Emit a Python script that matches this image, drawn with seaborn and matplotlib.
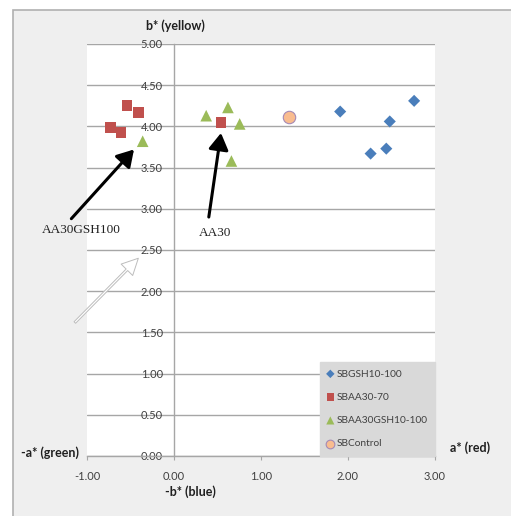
import matplotlib
matplotlib.use("Agg")
import matplotlib.pyplot as plt
import seaborn as sns
import pandas as pd
from matplotlib.patches import Rectangle

# ---- data ----
gsh_a = [1.91, 2.26, 2.44, 2.48, 2.76]
gsh_b = [4.18, 3.67, 3.73, 4.06, 4.31]
aa_a = [-0.73, -0.61, -0.54, -0.41, 0.54]
aa_b = [3.99, 3.93, 4.25, 4.17, 4.05]
aagsh_a = [-0.36, 0.37, 0.62, 0.66, 0.755]
aagsh_b = [3.82, 4.13, 4.23, 3.58, 4.03]
ctrl_a = [1.32]
ctrl_b = [4.11]
series = ["SBGSH10-100", "SBAA30-70", "SBAA30GSH10-100", "SBControl"]
x_ticks = [-1.0, 0.0, 1.0, 2.0, 3.0]
y_ticks = [0.0, 0.5, 1.0, 1.5, 2.0, 2.5, 3.0, 3.5, 4.0, 4.5, 5.0]

rows = []
for name, xs, ys in zip(series, [gsh_a, aa_a, aagsh_a, ctrl_a], [gsh_b, aa_b, aagsh_b, ctrl_b]):
    for x, y in zip(xs, ys):
        rows.append({"a": x, "b": y, "series": name})
df = pd.DataFrame(rows)

sns.set_style("white")
plt.rcParams["font.family"] = ["Lato", "DejaVu Sans"]

W, H = 511, 516
fig = plt.figure(figsize=(W / 100, H / 100), dpi=100, facecolor="white")
# outer chart area
bg = Rectangle((13 / W, -0.05), 1.1, 1.05 - 10 / H, transform=fig.transFigure,
               facecolor="#efefef", edgecolor="#b0b0b0", linewidth=1.2, zorder=-10)
fig.patches.append(bg)

ax = fig.add_axes([87 / W, (H - 456) / H, (435 - 87) / W, (456 - 44) / H])
ax.set_zorder(1)
ax.set_facecolor("white")

palette = {"SBGSH10-100": "#4a7ebb", "SBAA30-70": "#c0504d",
           "SBAA30GSH10-100": "#9bbb59", "SBControl": "#f9bc8f"}
markers = {"SBGSH10-100": "D", "SBAA30-70": "s", "SBAA30GSH10-100": "^", "SBControl": "o"}
sizes = {"SBGSH10-100": 38, "SBAA30-70": 60, "SBAA30GSH10-100": 70, "SBControl": 80}

for name in series:
    sub = df[df["series"] == name]
    sns.scatterplot(data=sub, x="a", y="b", ax=ax, color=palette[name], marker=markers[name],
                    s=sizes[name], label=name, zorder=5,
                    edgecolor="#a58ab5" if name == "SBControl" else "none",
                    linewidth=0.8 if name == "SBControl" else 0)

ax.set_xlim(-1, 3)
ax.set_ylim(0, 5)
ax.set_xticks(x_ticks)
ax.set_yticks(y_ticks)
ax.set_xticklabels([f"{v:.2f}" for v in x_ticks])
ax.set_yticklabels([f"{v:.2f}" for v in y_ticks])
ax.set_xlabel("")
ax.set_ylabel("")

ax.yaxis.grid(True, color="#a6a6a6", linewidth=1)
ax.xaxis.grid(False)
ax.set_axisbelow(True)
for s in ["top", "right"]:
    ax.spines[s].set_visible(False)
ax.spines["left"].set_position(("data", 0))
ax.spines["left"].set_color("#a6a6a6")
ax.spines["bottom"].set_color("#a6a6a6")
ax.spines["left"].set_linewidth(1)
ax.spines["bottom"].set_linewidth(1)
ax.tick_params(axis="x", direction="out", length=3, width=0.8, color="#a6a6a6",
               pad=8, labelsize=8, labelcolor="#404040", bottom=True)
ax.tick_params(axis="y", length=0, pad=8, labelsize=8, labelcolor="#404040")

# legend
sns.move_legend(ax, "lower right", bbox_to_anchor=(1.0, 0.0), frameon=True, fancybox=False,
                fontsize=7.3, borderaxespad=0, handlelength=0.5, handletextpad=0.35,
                labelspacing=1.4, borderpad=0.75, markerscale=0.7, title=None)
leg = ax.get_legend()
leg.get_frame().set_facecolor("#d9d9d9")
leg.get_frame().set_edgecolor("#d9d9d9")
leg.get_frame().set_alpha(1)
for t in leg.get_texts():
    t.set_color("#404040")
leg.set_zorder(6)

# annotations
serif = ["Liberation Serif", "DejaVu Serif"]
ax.annotate("", xy=(-0.46, 3.72), xytext=(-1.18, 2.88), annotation_clip=False,
            arrowprops=dict(arrowstyle="-|>,head_length=0.5,head_width=0.3", color="black",
                            lw=2.2, mutation_scale=20, shrinkA=0, shrinkB=0), zorder=7)
ax.text(-1.07, 2.74, "AA30GSH100", family=serif, fontsize=9.5, ha="center", va="center",
        color="#202020", clip_on=False, zorder=7)
ax.annotate("", xy=(0.54, 3.92), xytext=(0.40, 2.90), annotation_clip=False,
            arrowprops=dict(arrowstyle="-|>,head_length=0.5,head_width=0.3", color="black",
                            lw=2.2, mutation_scale=20, shrinkA=0, shrinkB=0), zorder=7)
ax.text(0.47, 2.71, "AA30", family=serif, fontsize=9.5, ha="center", va="center",
        color="#202020", clip_on=False, zorder=7)
ax.annotate("", xy=(-0.41, 2.40), xytext=(-1.14, 1.62), annotation_clip=False,
            arrowprops=dict(arrowstyle="simple,head_width=0.9,head_length=0.9,tail_width=0.12",
                            fc="white", ec="#bdbdbd", lw=0.7, mutation_scale=13,
                            shrinkA=0, shrinkB=0), zorder=7)

# axis titles
fig.text(175.5 / W, 1 - 26 / H, "b* (yellow)", ha="center", va="center", fontsize=9,
         fontweight="bold", color="#202020")
fig.text(190 / W, 1 - 492 / H, "-b* (blue)", ha="center", va="center", fontsize=9,
         fontweight="bold", color="#202020")
fig.text(50 / W, 1 - 453 / H, "-a* (green)", ha="center", va="center", fontsize=9,
         fontweight="bold", color="#202020")
fig.text(470 / W, 1 - 448 / H, "a* (red)", ha="center", va="center", fontsize=9,
         fontweight="bold", color="#202020")

fig.savefig("out.png", dpi=100, facecolor="white")
